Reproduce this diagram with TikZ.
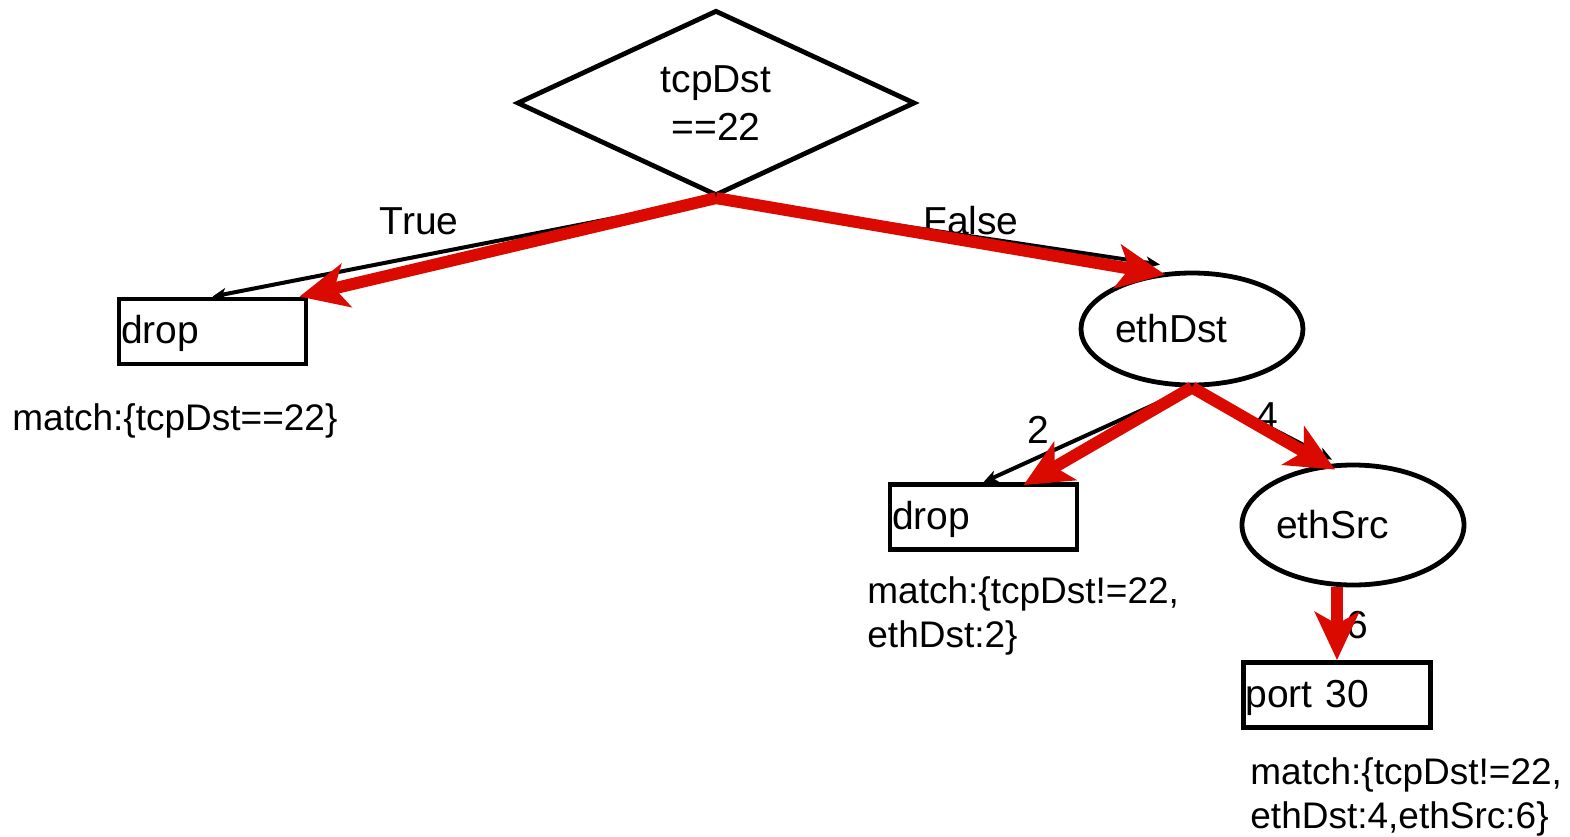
\documentclass[tikz,border=0pt]{standalone}
\usepackage{fontspec}
\setmainfont{Liberation Sans}
\usetikzlibrary{shapes.geometric,arrows.meta}
\definecolor{flowred}{RGB}{218,10,0}
\tikzset{
    testnode/.style={ellipse, draw, line width=2.4pt, minimum width=111pt, inner sep=0pt,
        text width=77pt, align=left, font=\fontsize{19.5}{24}\selectfont},
    leafbox/.style={rectangle, draw, line width=2.4pt, minimum height=32.5pt, inner xsep=1pt,
        inner ysep=0pt, text width=91.5pt, text height=15pt, text depth=3pt, align=left,
        font=\fontsize{19.5}{24}\selectfont},
    matchtext/.style={anchor=base west, inner sep=0pt, align=left, font=\fontsize{18.5}{22}\selectfont},
    edgelabel/.style={inner sep=0pt, font=\fontsize{19.5}{24}\selectfont},
    plainedge/.style={-{Stealth[length=7pt,width=6pt,inset=2pt]}, line width=2pt},
    flowedge/.style={-{Stealth[length=24pt,width=22pt,inset=6pt]}, line width=6pt, flowred}
}

\begin{document}
\begin{tikzpicture}[x=0.5pt,y=-0.5pt]
    \useasboundingbox (0,0) rectangle (1570,836);

    % Decision on tcpDst
    \node[diamond, draw, line width=2.4pt, minimum width=199pt, minimum height=89pt, inner sep=0pt,
        align=center, font=\fontsize{19.5}{24}\selectfont] (cond) at (716,103) {tcpDst\\==22};

    % Tests and leaves
    \node[leafbox] (dropA) at (212.5,331.5) {drop};
    \node[testnode, minimum height=56pt] (ethDst) at (1192,329) {ethDst};
    \node[leafbox] (dropB) at (983.5,517) {drop};
    \node[testnode, minimum height=60pt] (ethSrc) at (1353,525) {ethSrc};
    \node[leafbox] (port) at (1337,695) {port 30};

    % Match conditions under the leaves (anchored at the last line)
    \node[matchtext] (matchA) at (12,430) {match:\{tcpDst==22\}};
    \node[matchtext] (matchB) at (867,647) {match:\{tcpDst!=22,\\ethDst:2\}};
    \node[matchtext] (matchC) at (1250,828) {match:\{tcpDst!=22,\\ethDst:4,ethSrc:6\}};

    % Tree edges
    \draw[plainedge] (cond.south) -- (dropA.north);
    \draw[plainedge] (cond.south) -- ([xshift=-16pt,yshift=3pt]ethDst.north);
    \draw[plainedge] (ethDst.south) -- (dropB.north);
    \draw[plainedge] (ethDst.south) -- ([xshift=-10.5pt,yshift=1.5pt]ethSrc.north);

    % Edge labels
    \node[edgelabel] (lblTrue) at (419,221) {True};
    \node[edgelabel] (lblFalse) at (971,221) {False};
    \node[edgelabel] (lblTwo) at (1038,430) {2};
    \node[edgelabel] (lblFour) at (1267,416) {4};
    \node[edgelabel] (lblSix) at (1357,625) {6};

    % Highlighted paths in red
    \draw[flowedge] (cond.south) -- ([xshift=-4.5pt]dropA.north east);
    \draw[flowedge] (cond.south) -- ([xshift=-13.5pt,yshift=-2pt]ethDst.north);
    \draw[flowedge] (ethDst.south) -- ([xshift=20pt,yshift=-1.5pt]dropB.north);
    \draw[flowedge] (ethDst.south) -- ([xshift=-9pt,yshift=-3.5pt]ethSrc.north);
    \draw[flowedge] (ethSrc.south -| port.north) -- (port.north);
\end{tikzpicture}
\end{document}
